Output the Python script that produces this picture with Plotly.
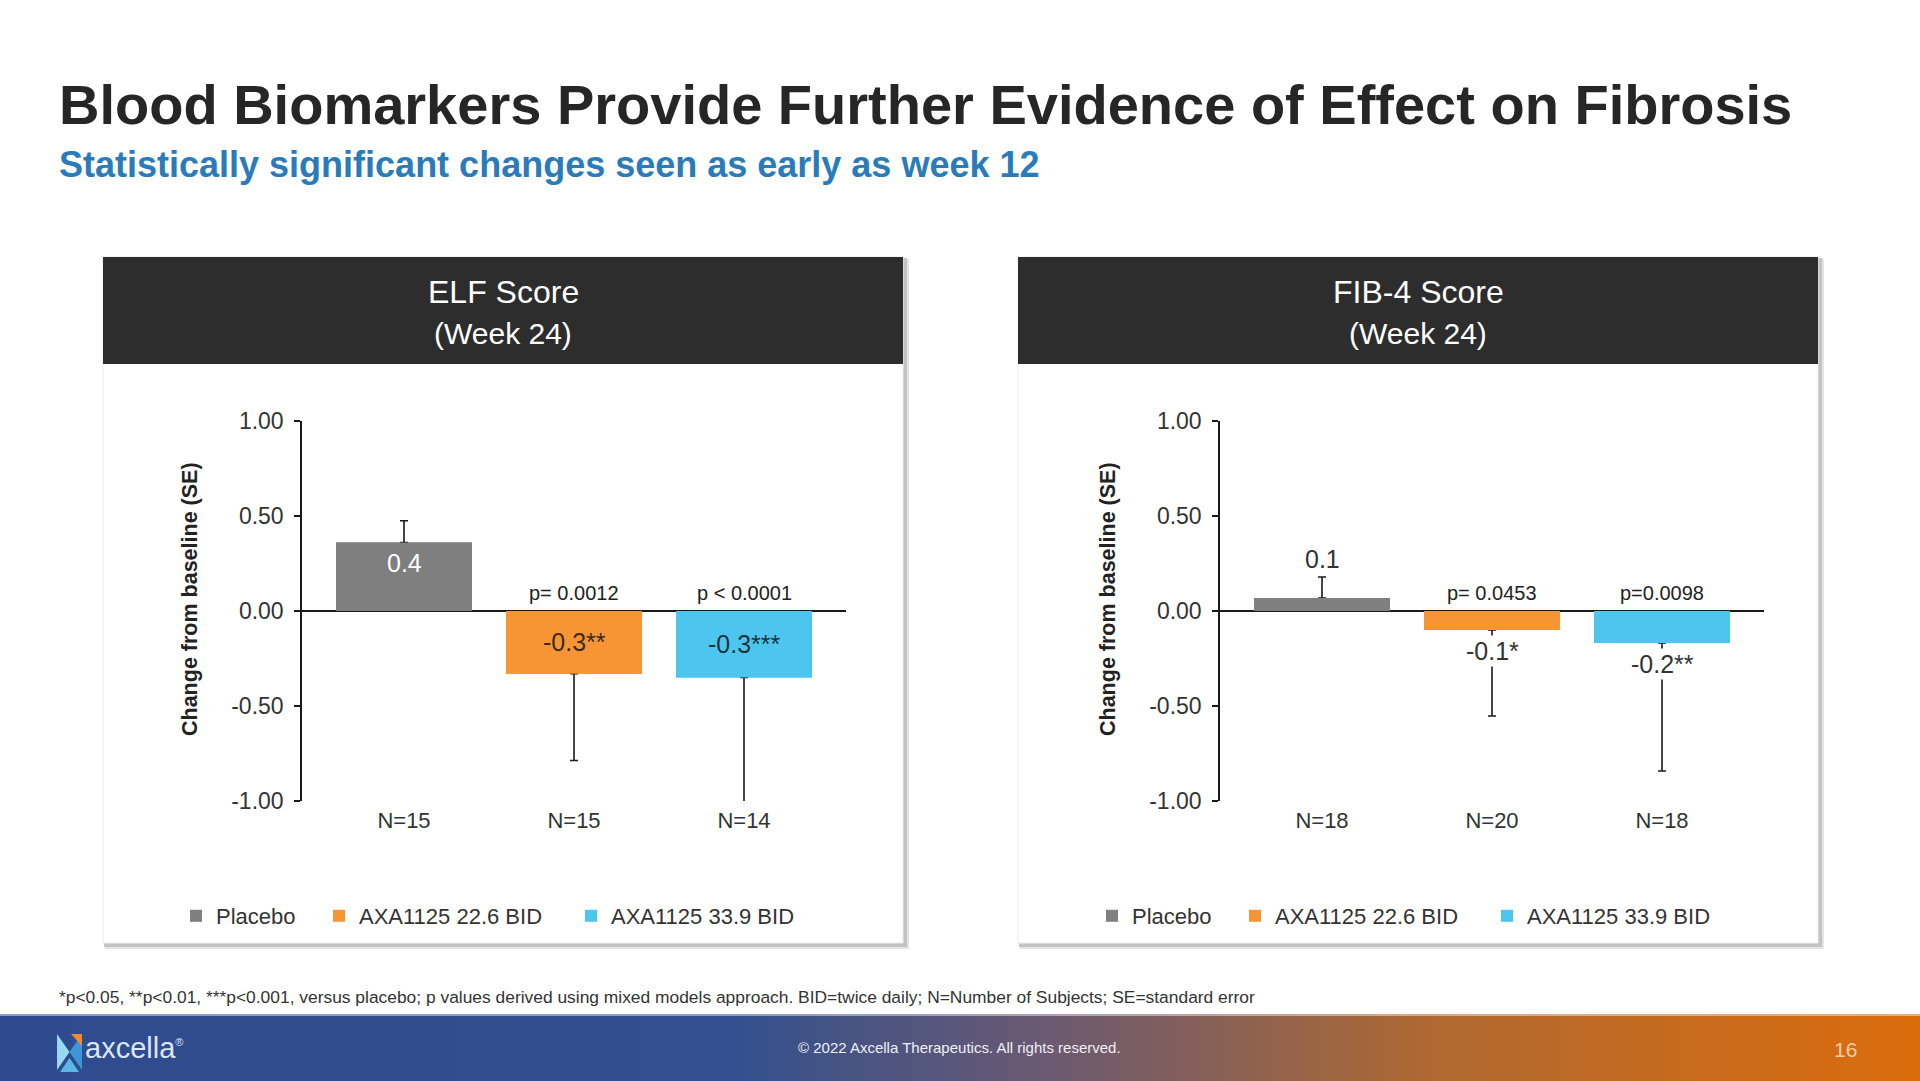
import numpy as np
import plotly.graph_objects as go

W, H = 1920, 1081

# ---------------- data ----------------
groups = ["Placebo", "AXA1125 22.6 BID", "AXA1125 33.9 BID"]
group_colors = ["#7f7f7f", "#f79433", "#4cc6ef"]

elf_mean = [0.36, -0.33, -0.35]
elf_se = [0.115, 0.457, 0.70]
elf_labels = ["0.4", "-0.3**", "-0.3***"]
elf_p = ["", "p= 0.0012", "p < 0.0001"]
elf_n = ["N=15", "N=15", "N=14"]

fib_mean = [0.068, -0.10, -0.168]
fib_se = [0.111, 0.453, 0.674]
fib_labels = ["0.1", "-0.1*", "-0.2**"]
fib_p = ["", "p= 0.0453", "p=0.0098"]
fib_n = ["N=18", "N=20", "N=18"]

y_ticks = [-1.0, -0.5, 0.0, 0.5, 1.0]
y_ticktext = ["%.2f" % v for v in y_ticks]
y_title = "Change from baseline (SE)"

title_text = "Blood Biomarkers Provide Further Evidence of Effect on Fibrosis"
subtitle_text = "Statistically significant changes seen as early as week 12"
footnote_text = ("*p<0.05, **p<0.01, ***p<0.001, versus placebo; p values derived using mixed models "
                 "approach. BID=twice daily; N=Number of Subjects; SE=standard error")
copyright_text = "© 2022 Axcella Therapeutics. All rights reserved."
page_no = "16"

# ---------------- style ----------------
FONT = "Liberation Sans, Arial, sans-serif"
TXT = "#2b2b2b"


def px(x):
    return x / W


def py(y):
    return 1 - y / H


panels = [
    dict(mean=elf_mean, se=elf_se, labels=elf_labels, p=elf_p, n=elf_n,
         title="ELF Score", sub="(Week 24)", box=(103, 903), ax=(302, 846),
         xa="x", ya="y", legends=["legend", "legend2", "legend3"],
         leg_x=[190, 333, 585], inside=True),
    dict(mean=fib_mean, se=fib_se, labels=fib_labels, p=fib_p, n=fib_n,
         title="FIB-4 Score", sub="(Week 24)", box=(1018, 1818), ax=(1220, 1764),
         xa="x2", ya="y2", legends=["legend4", "legend5", "legend6"],
         leg_x=[1106, 1249, 1501], inside=False),
]

PLOT_TOP, PLOT_BOT = 421, 801
PANEL_TOP, HEADER_BOT, PANEL_BOT = 257, 364, 943

fig = go.Figure()
shapes = []
annotations = []
layout_extra = {}

for pi, pn in enumerate(panels):
    # main bars with error bars
    for i, g in enumerate(groups):
        m, s = pn["mean"][i], pn["se"][i]
        fig.add_trace(go.Bar(
            x=[i], y=[m], width=0.8, name=g,
            marker=dict(color=group_colors[i], line=dict(width=0)),
            xaxis=pn["xa"], yaxis=pn["ya"], legend=pn["legends"][i],
            error_y=dict(type="data", symmetric=False,
                         array=[s if m >= 0 else 0], arrayminus=[s if m < 0 else 0],
                         color="#1a1a1a", thickness=1.6, width=4),
            hoverinfo="skip",
        ))
    # cover bars (hide error-bar foot at the bar edge)
    for i, g in enumerate(groups):
        fig.add_trace(go.Bar(
            x=[i], y=[pn["mean"][i]], width=0.8, name=g, showlegend=False,
            marker=dict(color=group_colors[i], line=dict(width=0)),
            xaxis=pn["xa"], yaxis=pn["ya"], hoverinfo="skip",
        ))

    x0, x1 = pn["box"]
    # panel shadow + body + header
    shapes += [
        dict(type="rect", xref="paper", yref="paper", x0=px(x0 + 2), x1=px(x1 + 6),
             y0=py(PANEL_BOT + 6), y1=py(PANEL_TOP + 2), fillcolor="#e4e4e4", line_width=0, layer="below"),
        dict(type="rect", xref="paper", yref="paper", x0=px(x0 + 1), x1=px(x1 + 4),
             y0=py(PANEL_BOT + 4), y1=py(PANEL_TOP + 1), fillcolor="#c4c4c4", line_width=0, layer="below"),
        dict(type="rect", xref="paper", yref="paper", x0=px(x0), x1=px(x1),
             y0=py(PANEL_BOT), y1=py(PANEL_TOP), fillcolor="#ffffff",
             line=dict(color="#ececec", width=1), layer="below"),
        dict(type="rect", xref="paper", yref="paper", x0=px(x0), x1=px(x1),
             y0=py(HEADER_BOT), y1=py(PANEL_TOP), fillcolor="#2d2d2d", line_width=0, layer="below"),
    ]
    cx = (x0 + x1) / 2
    annotations += [
        dict(text=pn["title"], x=px(cx), y=py(292), xref="paper", yref="paper",
             showarrow=False, font=dict(family=FONT, size=32, color="#ffffff"), xanchor="center", yanchor="middle"),
        dict(text=pn["sub"], x=px(cx), y=py(333), xref="paper", yref="paper",
             showarrow=False, font=dict(family=FONT, size=30, color="#ffffff"), xanchor="center", yanchor="middle"),
        # y-axis title (placed as in the reference, slightly above the plot centre)
        dict(text="<b>" + y_title + "</b>", x=px(pn["ax"][0] - 112), y=py(599), xref="paper", yref="paper",
             textangle=-90, showarrow=False, xanchor="center", yanchor="middle",
             font=dict(family=FONT, size=21.5, color="#222222")),
    ]

    xa_name = "xaxis" if pi == 0 else "xaxis2"
    ya_name = "yaxis" if pi == 0 else "yaxis2"
    layout_extra[xa_name] = dict(
        domain=[px(pn["ax"][0]), px(pn["ax"][1])], range=[-0.6, 2.6], anchor=pn["ya"],
        tickvals=[0, 1, 2], ticktext=pn["n"], showline=False, showgrid=False, zeroline=False,
        ticks="", tickfont=dict(family=FONT, size=22, color="#333333"), ticklabelstandoff=4,
        fixedrange=True, automargin=False,
    )
    layout_extra[ya_name] = dict(
        domain=[py(PLOT_BOT), py(PLOT_TOP)], range=[-1, 1], anchor=pn["xa"],
        tickvals=y_ticks, ticktext=y_ticktext, showgrid=False,
        showline=True, linecolor="#1a1a1a", linewidth=1.5,
        ticks="outside", ticklen=6, tickwidth=1.5, tickcolor="#1a1a1a",
        zeroline=True, zerolinecolor="#1a1a1a", zerolinewidth=1.5,
        tickfont=dict(family=FONT, size=23, color="#333333"), ticklabelstandoff=6,
        automargin=False, fixedrange=True,
    )

    # value labels and p-values
    for i in range(len(groups)):
        m, s = pn["mean"][i], pn["se"][i]
        if pn["inside"]:
            if m >= 0:
                annotations.append(dict(text=pn["labels"][i], x=i, y=m, xref=pn["xa"], yref=pn["ya"],
                                        showarrow=False, yanchor="top", yshift=-4,
                                        font=dict(family=FONT, size=25, color="#ffffff")))
            else:
                annotations.append(dict(text=pn["labels"][i], x=i, y=m / 2, xref=pn["xa"], yref=pn["ya"],
                                        showarrow=False, yanchor="middle",
                                        font=dict(family=FONT, size=25, color="rgba(20,20,20,0.85)")))
        else:
            if m >= 0:
                annotations.append(dict(text=pn["labels"][i], x=i, y=m + s, xref=pn["xa"], yref=pn["ya"],
                                        showarrow=False, yanchor="bottom", yshift=2,
                                        font=dict(family=FONT, size=25, color="#333333")))
            else:
                annotations.append(dict(text=pn["labels"][i], x=i, y=m, xref=pn["xa"], yref=pn["ya"],
                                        showarrow=False, yanchor="top", yshift=-5, bgcolor="#ffffff",
                                        font=dict(family=FONT, size=25, color="#333333")))
        if pn["p"][i]:
            annotations.append(dict(text=pn["p"][i], x=i, y=0, xref=pn["xa"], yref=pn["ya"],
                                    showarrow=False, yanchor="bottom", yshift=5,
                                    font=dict(family=FONT, size=20, color="#222222")))

    # legends
    for i, lid in enumerate(pn["legends"]):
        layout_extra[lid] = dict(
            x=px(pn["leg_x"][i] - 14), y=py(916), xref="paper", yref="paper",
            xanchor="left", yanchor="middle", orientation="h",
            bgcolor="rgba(0,0,0,0)", borderwidth=0,
            font=dict(family=FONT, size=22, color="#333333"),
        )

# ---------------- slide titles ----------------
annotations += [
    dict(text="<b>" + title_text + "</b>", x=px(57), y=py(104), xref="paper", yref="paper",
         xanchor="left", yanchor="middle", showarrow=False,
         font=dict(family=FONT, size=56, color="#262626")),
    dict(text="<b>" + subtitle_text + "</b>", x=px(57), y=py(165), xref="paper", yref="paper",
         xanchor="left", yanchor="middle", showarrow=False,
         font=dict(family=FONT, size=36, color="#2a7bbb")),
    dict(text=footnote_text, x=px(57), y=py(997), xref="paper", yref="paper",
         xanchor="left", yanchor="middle", showarrow=False,
         font=dict(family=FONT, size=17.4, color="#333333")),
]

# ---------------- footer band (gradient) ----------------
FOOT_TOP = 1014
stops = [(0.0, (46, 75, 143)), (0.38, (50, 80, 143)), (0.55, (108, 90, 112)),
         (0.75, (176, 105, 48)), (1.0, (220, 108, 12))]
n_strips = 160
for k in range(n_strips):
    t = (k + 0.5) / n_strips
    for j in range(len(stops) - 1):
        if stops[j][0] <= t <= stops[j + 1][0]:
            a, ca = stops[j]
            b, cb = stops[j + 1]
            f = (t - a) / (b - a)
            c = tuple(int(round(ca[q] + (cb[q] - ca[q]) * f)) for q in range(3))
            break
    shapes.append(dict(type="rect", xref="paper", yref="paper",
                       x0=k / n_strips, x1=(k + 1) / n_strips + 0.0005,
                       y0=0, y1=py(FOOT_TOP), fillcolor="rgb(%d,%d,%d)" % c,
                       line_width=0, layer="below"))
shapes.append(dict(type="line", xref="paper", yref="paper", x0=0, x1=1,
                   y0=py(FOOT_TOP + 1), y1=py(FOOT_TOP + 1),
                   line=dict(color="rgba(255,255,255,0.45)", width=2), layer="below"))

# logo icon (simple triangles)
cxl, cyl = 69.5, 1052
tri = [
    ("M {a},{b} L {c},{d} L {a},{e} Z".format(a=px(57), b=py(1034), c=px(cxl), d=py(cyl), e=py(1070)), "#9ad8f2"),
    ("M {a},{b} L {c},{d} L {a},{e} Z".format(a=px(82), b=py(1034), c=px(cxl), d=py(cyl), e=py(1070)), "#3d97d6"),
    ("M {a},{b} L {c},{d} L {e},{b} Z".format(a=px(71), b=py(1034), c=px(82), d=py(1046), e=px(82)), "#f08a2a"),
    ("M {a},{b} L {c},{d} L {e},{b} Z".format(a=px(60), b=py(1072), c=px(cxl), d=py(1058), e=px(79)), "#5bb7e6"),
]
for path, col in tri:
    shapes.append(dict(type="path", path=path, xref="paper", yref="paper",
                       fillcolor=col, line_width=0, layer="above"))

annotations += [
    dict(text="axcella<sup><span style='font-size:11px'>®</span></sup>", x=px(83), y=py(1048),
         xref="paper", yref="paper", xanchor="left", yanchor="middle", showarrow=False,
         font=dict(family=FONT, size=29, color="#dbe6f6")),
    dict(text=copyright_text, x=px(959), y=py(1047), xref="paper", yref="paper",
         xanchor="center", yanchor="middle", showarrow=False,
         font=dict(family=FONT, size=15, color="#eef0f6")),
    dict(text=page_no, x=px(1845), y=py(1049), xref="paper", yref="paper",
         xanchor="center", yanchor="middle", showarrow=False,
         font=dict(family=FONT, size=21, color="#f8cfa4")),
]

fig.update_layout(
    width=W, height=H,
    margin=dict(l=0, r=0, t=0, b=0, pad=0, autoexpand=False),
    paper_bgcolor="#ffffff", plot_bgcolor="rgba(0,0,0,0)",
    barmode="overlay", showlegend=True,
    shapes=shapes, annotations=annotations,
    font=dict(family=FONT, color=TXT),
    **layout_extra,
)

fig.write_html("out.html", config={"displayModeBar": False},
               post_script="document.body.style.margin='0';document.body.style.overflow='hidden';")
